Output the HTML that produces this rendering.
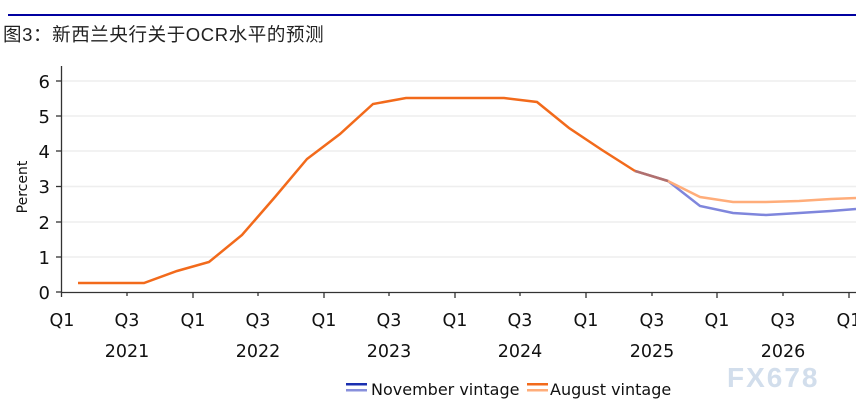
<!DOCTYPE html>
<html><head><meta charset="utf-8"><style>
html,body{margin:0;padding:0;background:#fff;}
body{width:856px;height:412px;overflow:hidden;position:relative;font-family:"Liberation Sans","Noto Sans CJK SC",sans-serif;}
</style></head><body>
<svg width="856" height="412" xmlns="http://www.w3.org/2000/svg" style="position:absolute;left:0;top:0">
<line x1="8" y1="15" x2="856" y2="15" stroke="#0000a0" stroke-width="2"/>
<text x="3" y="41" font-size="18.5" fill="#222" letter-spacing="0.6" font-family="Liberation Sans,Noto Sans CJK SC,sans-serif">图3：新西兰央行关于OCR水平的预测</text>
<g stroke="#eeeeee" stroke-width="1.5">
<line x1="62" y1="81" x2="856" y2="81"/><line x1="62" y1="116" x2="856" y2="116"/><line x1="62" y1="151" x2="856" y2="151"/><line x1="62" y1="186.5" x2="856" y2="186.5"/><line x1="62" y1="222" x2="856" y2="222"/><line x1="62" y1="257" x2="856" y2="257"/>
</g>
<g stroke="#333" stroke-width="1.3">
<line x1="61.5" y1="66" x2="61.5" y2="297"/>
<line x1="61" y1="292.5" x2="856" y2="292.5"/>
<line x1="56" y1="81" x2="61" y2="81"/><line x1="56" y1="116" x2="61" y2="116"/><line x1="56" y1="151" x2="61" y2="151"/><line x1="56" y1="186.5" x2="61" y2="186.5"/><line x1="56" y1="222" x2="61" y2="222"/><line x1="56" y1="257" x2="61" y2="257"/><line x1="56" y1="292" x2="61" y2="292"/>
<line x1="127" y1="292" x2="127" y2="296"/><line x1="193" y1="292" x2="193" y2="298"/><line x1="258" y1="292" x2="258" y2="296"/><line x1="324" y1="292" x2="324" y2="298"/><line x1="389" y1="292" x2="389" y2="296"/><line x1="455" y1="292" x2="455" y2="298"/><line x1="520" y1="292" x2="520" y2="296"/><line x1="586" y1="292" x2="586" y2="298"/><line x1="652" y1="292" x2="652" y2="296"/><line x1="717" y1="292" x2="717" y2="298"/><line x1="783" y1="292" x2="783" y2="296"/><line x1="849" y1="292" x2="849" y2="298"/>
</g>
<g font-size="18" fill="#111" text-anchor="end" font-family="DejaVu Sans,sans-serif">
<text x="50" y="88">6</text><text x="50" y="123">5</text><text x="50" y="158">4</text><text x="50" y="193">3</text><text x="50" y="229">2</text><text x="50" y="264">1</text><text x="50" y="299">0</text>
</g>
<text transform="translate(27,187) rotate(-90)" font-size="14" fill="#111" text-anchor="middle" font-family="DejaVu Sans,sans-serif">Percent</text>
<g font-size="17.5" fill="#111" text-anchor="middle" font-family="DejaVu Sans,sans-serif">
<text x="62" y="326">Q1</text><text x="127" y="326">Q3</text><text x="193" y="326">Q1</text><text x="258" y="326">Q3</text><text x="324" y="326">Q1</text><text x="389" y="326">Q3</text><text x="455" y="326">Q1</text><text x="520" y="326">Q3</text><text x="586" y="326">Q1</text><text x="652" y="326">Q3</text><text x="717" y="326">Q1</text><text x="783" y="326">Q3</text><text x="849" y="326">Q1</text>
<text x="127" y="357">2021</text><text x="258" y="357">2022</text><text x="389" y="357">2023</text><text x="520" y="357">2024</text><text x="652" y="357">2025</text><text x="783" y="357">2026</text>
</g>
<polyline fill="none" stroke="#7f86dc" stroke-width="2.5" points="635,171 668,181 700,206 733,213 766,215 799,213 831,211 856,209"/>
<polyline fill="none" stroke="#ffad7a" stroke-width="2.5" points="635,171 668,181 700,197 733,202 766,202 799,201 831,199 856,198"/>
<polyline fill="none" stroke="#b07070" stroke-width="2.5" points="635,171 668,181"/>
<polyline fill="none" stroke="#f26a1b" stroke-width="2.5" points="78,283 111,283 144,283 177,271 209,262 242,235 275,197 307,159 340,134 373,104 406,98 438,98 471,98 504,98 537,102 569,128 602,150 635,171"/>
<rect x="346" y="383" width="21" height="2.5" fill="#1a2fb0"/><rect x="346" y="389" width="21" height="2.5" fill="#8890dc"/>
<rect x="527" y="383" width="21" height="2.5" fill="#f26a1b"/><rect x="527" y="389" width="21" height="2.5" fill="#ffad7a"/>
<g font-size="16" fill="#111" font-family="DejaVu Sans,sans-serif">
<text x="371" y="395">November vintage</text><text x="550" y="395">August vintage</text>
</g>
<text x="727" y="387" font-size="28" fill="#d2deec" font-weight="bold" font-family="Liberation Sans,sans-serif" letter-spacing="2">FX678</text>
</svg>
</body></html>
